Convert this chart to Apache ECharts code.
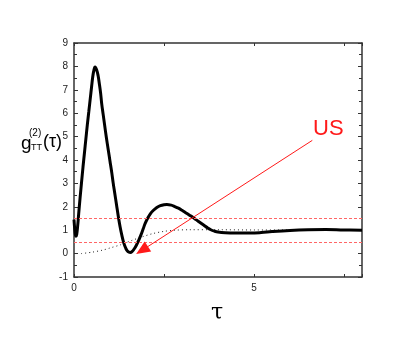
<!DOCTYPE html>
<html>
<head>
<meta charset="utf-8">
<script src="https://cdn.jsdelivr.net/npm/echarts@6/dist/echarts.min.js"></script>
<style>html,body{margin:0;padding:0;background:#fff}#c{width:403px;height:346px}</style>
</head>
<body>
<div id="c"></div>
<script>
var tau = [0, 0.02, 0.04, 0.056, 0.075, 0.1, 0.13, 0.17, 0.21, 0.25, 0.29, 0.33, 0.37, 0.41, 0.45, 0.49, 0.52, 0.555, 0.585, 0.63, 0.67, 0.70, 0.74, 0.77, 0.81, 0.85, 0.9, 0.95, 1.0, 1.05, 1.09, 1.13, 1.18, 1.23, 1.28, 1.33, 1.38, 1.44, 1.50, 1.56, 1.62, 1.68, 1.74, 1.8, 1.86, 1.92, 1.98, 2.05, 2.12, 2.2, 2.3, 2.4, 2.5, 2.58, 2.7, 2.8, 2.9, 3.0, 3.1, 3.2, 3.3, 3.4, 3.5, 3.6, 3.7, 3.8, 3.9, 4.0, 4.2, 4.5, 4.9, 5.2, 5.5, 6.0, 6.5, 7.0, 7.5, 8.0];
var g2 = [1.45, 1.05, 0.8, 0.74, 0.82, 1.15, 1.7, 2.4, 3.05, 3.7, 4.3, 4.9, 5.5, 6.05, 6.6, 7.15, 7.55, 7.85, 7.97, 7.85, 7.6, 7.3, 6.85, 6.4, 5.95, 5.5, 4.95, 4.45, 3.95, 3.45, 3.0, 2.6, 2.1, 1.6, 1.15, 0.78, 0.47, 0.22, 0.08, 0.05, 0.1, 0.22, 0.38, 0.58, 0.8, 1.05, 1.3, 1.52, 1.7, 1.84, 1.97, 2.05, 2.09, 2.1, 2.07, 2.01, 1.94, 1.85, 1.75, 1.65, 1.55, 1.44, 1.33, 1.22, 1.11, 1.02, 0.96, 0.92, 0.89, 0.88, 0.88, 0.9, 0.94, 0.99, 1.02, 1.03, 1.01, 1.0];
var tauRef = [0.2, 0.5, 0.8, 1.0, 1.3, 1.6, 1.9, 2.2, 2.5, 2.8, 3.2, 4.0, 5.0, 6.0, 7.0, 8.0];
var gRef = [0, 0.06, 0.15, 0.24, 0.38, 0.56, 0.72, 0.86, 0.95, 1.0, 1.02, 1.02, 1.01, 1.01, 1.0, 1.0];
var levels = [1.5, 0.5];
var arrowFrom = [6.62, 4.84];
var arrowTo = [1.89, 0.14];
var annotation = 'US';
var xTickLabels = ['0', '5'];
var yMin = -1, yMax = 9, xMin = 0, xMax = 8;

function pairs(a, b) { return a.map(function (v, i) { return [v, b[i]]; }); }

var chart = echarts.init(document.getElementById('c'));
var axisCol = '#333';
var font = 'Liberation Sans, Arial, sans-serif';
var xCommon = {
  type: 'value', min: xMin, max: xMax, interval: 2.5,
  axisLine: { show: true, onZero: false, lineStyle: { color: axisCol, width: 1.5 } },
  axisTick: { show: true, inside: true, length: 3, lineStyle: { color: axisCol, width: 1 } },
  splitLine: { show: false }
};
var yCommon = {
  type: 'value', min: yMin, max: yMax, interval: 1,
  axisLine: { show: true, onZero: false, lineStyle: { color: axisCol, width: 1.5 } },
  axisTick: { show: true, inside: true, length: 4, lineStyle: { color: axisCol, width: 1 } },
  minorTick: { show: true, splitNumber: 2, length: 3, lineStyle: { color: axisCol, width: 1 } },
  splitLine: { show: false }
};
chart.setOption({
  animation: false,
  backgroundColor: '#fff',
  grid: { left: 74, right: 41, top: 43, bottom: 69, containLabel: false },
  xAxis: [
    Object.assign({}, xCommon, {
      position: 'bottom',
      axisLabel: { show: true, margin: 6, color: '#222', fontSize: 10, fontFamily: font,
        formatter: function (v) { var s = String(v); return xTickLabels.indexOf(s) >= 0 ? s : ''; } }
    }),
    Object.assign({}, xCommon, { position: 'top', axisLabel: { show: false } })
  ],
  yAxis: [
    Object.assign({}, yCommon, {
      position: 'left',
      axisLabel: { show: true, margin: 6, color: '#222', fontSize: 10, fontFamily: font }
    }),
    Object.assign({}, yCommon, { position: 'right', axisLabel: { show: false } })
  ],
  series: [
    {
      type: 'line', data: pairs(tauRef, gRef), showSymbol: false, smooth: 0.3,
      lineStyle: { color: '#222', width: 1, type: [1, 3] }, z: 2
    },
    {
      type: 'line', data: pairs(tau, g2), showSymbol: false, smooth: 0.4,
      lineStyle: { color: '#000', width: 3 }, z: 3,
      markLine: {
        silent: true, symbol: ['none', 'none'], label: { show: false },
        lineStyle: { color: '#f66', width: 1, type: [3, 2] },
        data: levels.map(function (v) { return { yAxis: v }; })
      }
    },
    {
      type: 'line', data: [], z: 4,
      markLine: {
        silent: true, symbol: ['none', 'triangle'], symbolSize: [12, 14],
        label: { show: false },
        lineStyle: { color: '#ff1a1a', width: 1, type: 'solid' },
        data: [[{ coord: arrowFrom }, { coord: arrowTo }]]
      }
    }
  ],
  graphic: [
    { type: 'text', left: 313, top: 118, style: { text: annotation, fill: '#ff1a1a', font: '22px ' + font } },
    { type: 'text', left: 211, top: 302, style: { text: 'τ', fill: '#000', font: '22px "DejaVu Serif", serif' } },
    { type: 'text', left: 21, top: 134, style: { text: 'g', fill: '#000', font: '19px ' + font } },
    { type: 'text', left: 29, top: 128, style: { text: '(2)', fill: '#000', font: '10px ' + font } },
    { type: 'text', left: 31, top: 143, style: { text: 'TT', fill: '#000', font: '9px ' + font } },
    { type: 'text', left: 43, top: 133, style: { text: '(τ)', fill: '#000', font: '18px ' + font } }
  ]
});
</script>
</body>
</html>
